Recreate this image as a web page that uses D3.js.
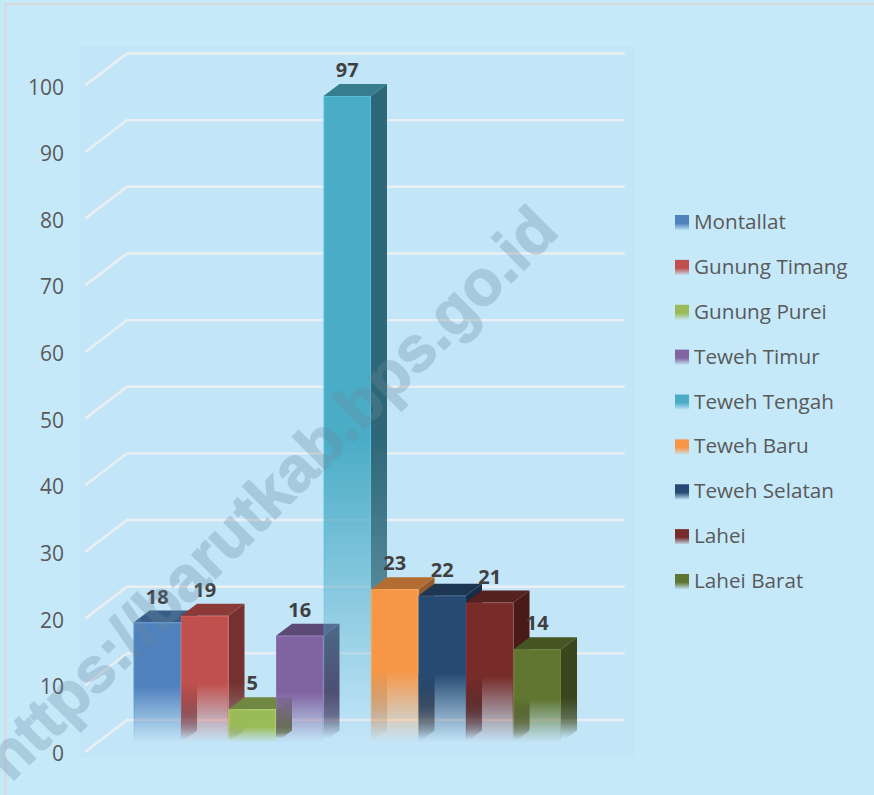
<!DOCTYPE html>
<html><head><meta charset="utf-8">
<script src="https://cdn.jsdelivr.net/npm/d3@7"></script>
<style>html,body{margin:0;padding:0;background:#c6e9fa}svg{display:block}</style>
</head><body><div id="c"></div>
<script>
const categories=["Montallat","Gunung Timang","Gunung Purei","Teweh Timur","Teweh Tengah","Teweh Baru","Teweh Selatan","Lahei","Lahei Barat"];
const values=[18,19,5,16,97,23,22,21,14];
const frontColors=["#4f81bd","#c0504d","#9bbb59","#8064a2","#4bacc6","#f79646","#264a73","#772c2a","#5f7530"];
const innerWallOpacity=[0,.75,.25,0,0,.3,.8,.8,.75];
const yTicks=[0,10,20,30,40,50,60,70,80,90,100];
const watermark="https://barutkab.bps.go.id";

const W=874,H=795;
const svg=d3.select("#c").append("svg").attr("width",W).attr("height",H).style("font-family","'Open Sans','Noto Sans',sans-serif");
const defs=svg.append("defs");
svg.append("rect").attr("width",W).attr("height",H).attr("fill","#c6e9fa");
svg.append("path").attr("d","M5.5 795V4H874").attr("fill","none").attr("stroke","#d6d8da").attr("stroke-width",2);
svg.append("rect").attr("x",80).attr("y",46).attr("width",555).attr("height",711).attr("fill","#c3e5f8");

const depthX=42,depthY=32,bx=16,by=12;
const yFront=d3.scaleLinear().domain([0,100]).range([752,85.5]);
const yBar=v=>yFront(v)-9.5;
const x=d3.scaleBand().domain(categories).range([133.5,561]).padding(0);
const color=d3.scaleOrdinal().domain(categories).range(frontColors);
const w=x.bandwidth();

// gridlines
const grid=svg.append("g").attr("fill","none").attr("stroke","#eceff2").attr("stroke-width",2.4);
grid.selectAll("path").data(yTicks).join("path")
 .attr("d",t=>`M85 ${yFront(t)}L${85+depthX} ${yFront(t)-depthY}H625`);

// y labels
svg.append("g").selectAll("text").data(yTicks).join("text")
 .attr("x",64).attr("y",t=>yFront(t)+9).attr("text-anchor","end")
 .attr("font-size",21).attr("fill","#595959").text(t=>t);

function grad(id,c,topOp,y1,y2,y3,mid){
 const g=defs.append("linearGradient").attr("id",id).attr("gradientUnits","userSpaceOnUse")
  .attr("x1",0).attr("x2",0).attr("y1",y1).attr("y2",y3);
 const f=(y2-y1)/(y3-y1);
 g.append("stop").attr("offset",0).attr("stop-color",c).attr("stop-opacity",topOp);
 g.append("stop").attr("offset",f).attr("stop-color",c).attr("stop-opacity",topOp);
 g.append("stop").attr("offset",.5*f+.5).attr("stop-color",c).attr("stop-opacity",topOp*mid);
 g.append("stop").attr("offset",1).attr("stop-color",c).attr("stop-opacity",0);
}
const base=yBar(0);
const bars=svg.append("g");
categories.forEach((cat,i)=>{
 const v=values[i],c=d3.color(color(cat)),X=x(cat),T=yBar(v),h=base-T;
 const fade=base-h*.47;
 const dark=c.darker(1.4).formatHex(),top=c.darker(.9).formatHex();
 grad("f"+i,c.formatHex(),1,T,fade,base,.5);
 grad("e"+i,c.brighter(.3).formatHex(),1,T,fade,base,.5);
 grad("s"+i,dark,1,T,fade,base-4,.75);
 grad("i"+i,dark,innerWallOpacity[i],T,fade,base-2,.7);
 const g=bars.append("g");
 // inner left wall seen through the fading front
 g.append("path").attr("d",`M${X} ${fade}L${X+bx} ${fade}V${base-by}L${X} ${base}Z`).attr("fill",`url(#i${i})`);
 // side
 g.append("path").attr("d",`M${X+w} ${T}L${X+w+bx} ${T-by}V${base-by}L${X+w} ${base}Z`).attr("fill",`url(#s${i})`);
 // top
 g.append("path").attr("d",`M${X} ${T}L${X+bx} ${T-by}H${X+w+bx}L${X+w} ${T}Z`).attr("fill",top);
 // front
 g.append("rect").attr("x",X+.5).attr("y",T+.5).attr("width",w-1).attr("height",h-1).attr("fill",`url(#f${i})`).attr("stroke",`url(#e${i})`).attr("stroke-width",1);
});

// value labels
svg.append("g").selectAll("text").data(categories).join("text")
 .attr("x",d=>x(d)+w/2).attr("y",(d,i)=>yBar(values[i])-19)
 .attr("text-anchor","middle").attr("font-size",20).attr("font-weight",700).attr("fill","#404040")
 .text((d,i)=>values[i]);

// legend
const ly=d3.scalePoint().domain(categories).range([222,581]);
const lg=svg.append("g").selectAll("g").data(categories).join("g").attr("transform",d=>`translate(675,${ly(d)})`);
categories.forEach((cat,i)=>{
 const g=defs.append("linearGradient").attr("id","l"+i).attr("x1",0).attr("x2",0).attr("y1",0).attr("y2",1);
 g.append("stop").attr("offset",.55).attr("stop-color",color(cat));
 g.append("stop").attr("offset",1).attr("stop-color",color(cat)).attr("stop-opacity",.1);
});
lg.append("rect").attr("x",0).attr("y",-7).attr("width",14).attr("height",15).attr("fill",(d,i)=>`url(#l${i})`);
lg.append("text").attr("x",19).attr("y",7).attr("font-size",20.7).attr("fill","#595959").text(d=>d);

// watermark
svg.append("g").attr("opacity",.3).append("text").attr("transform","translate(11,783) rotate(-45)")
 .attr("font-family","'Liberation Sans',sans-serif").attr("font-weight",700).attr("font-size",63.3)
 .attr("fill","#6a8aa0").attr("stroke","#6a8aa0").attr("stroke-width",1.5).text(watermark);
</script></body></html>
